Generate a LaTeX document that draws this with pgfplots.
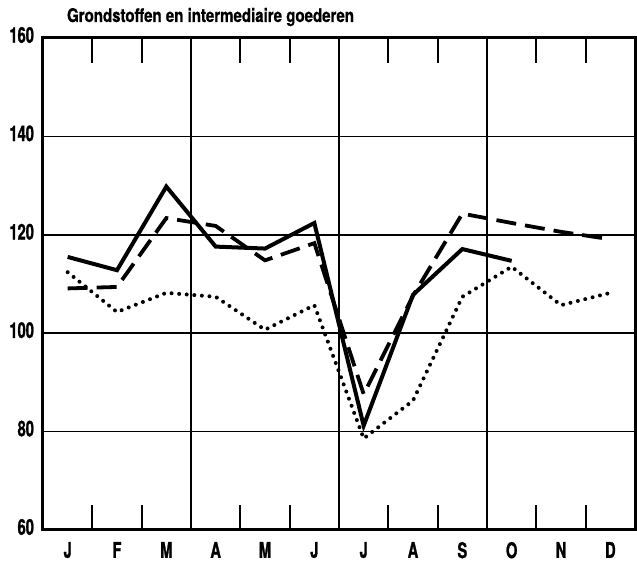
\documentclass[border=0pt]{standalone}
\usepackage{fontspec}
\setmainfont{TeX Gyre Heros}[FakeStretch=0.78]
\newfontfamily\tickfont{TeX Gyre Heros}[FakeStretch=0.68, BoldFeatures={FakeBold=1.2}]
\newfontfamily\titlefont{TeX Gyre Heros}[FakeStretch=0.8, BoldFeatures={FakeBold=0.8}]
\usepackage{pgfplots}
\pgfplotsset{compat=1.18}
\begin{document}
\begin{tikzpicture}
\begin{axis}[
  name=ax,
  scale only axis,
  width=296pt, height=246pt,
  xmin=0, xmax=12, ymin=60, ymax=160,
  axis line style={line width=1.5pt},
  xtick={0.5,1.5,...,11.5},
  xticklabels={J,F,M,A,M,J,J,A,S,O,N,D},
  major x tick style={draw=none},
  minor xtick={1,2,4,5,7,8,10,11},
  minor tick length=12.5pt,
  minor x tick style={line width=0.9pt, black},
  extra x ticks={3,6,9},
  extra x tick labels={},
  extra x tick style={grid=major, major tick length=0pt},
  ytick={60,80,...,160},
  ymajorgrids,
  major y tick style={draw=none},
  grid style={line width=0.85pt, black},
  tick label style={font=\tickfont\bfseries\fontsize{10.8}{12}\selectfont},
  /pgf/number format/assume math mode=true,
  xticklabel style={yshift=-2.5pt},
  yticklabel style={yshift=1.5pt, xshift=-1pt},
  clip=false,
]
\addplot[black, line width=2pt, line join=miter] coordinates {
 (0.5,115.5) (1.5,112.8) (2.5,129.8) (3.5,117.6) (4.5,117.2) (5.5,122.4)
 (6.5,81.2) (7.5,107.8) (8.5,117.1) (9.5,114.7)};
\addplot[black, line width=1.9pt, dash pattern=on 10pt off 4.5pt] coordinates {
 (0.5,109.1) (1.5,109.4) (2.5,123.4) (3.5,121.8) (4.5,114.8) (5.5,118.3)
 (6.5,87.6) (7.5,107.6) (8.5,124.3) (9.5,122.4) (10.5,120.6) (11.5,119.1)};
\addplot[black, line width=2pt, line cap=round, dash pattern=on 0pt off 3.8pt] coordinates {
 (0.5,112.4) (1.5,104.3) (2.5,108.2) (3.5,107.4) (4.5,100.7) (5.5,105.7)
 (6.5,78.6) (7.5,86.3) (8.5,107.4) (9.5,113.5) (10.5,105.7) (11.5,108.2)};
\node[anchor=base west, font=\titlefont\bfseries\fontsize{9.4}{11}\selectfont]
  at ([xshift=8.5pt, yshift=8pt]rel axis cs:0,1) {Grondstoffen en intermediaire goederen};
\end{axis}
\pgfresetboundingbox
\path ([shift={(-21.5pt,-18pt)}]ax.south west) rectangle ([shift={(1pt,19pt)}]ax.north east);
\end{tikzpicture}
\end{document}
